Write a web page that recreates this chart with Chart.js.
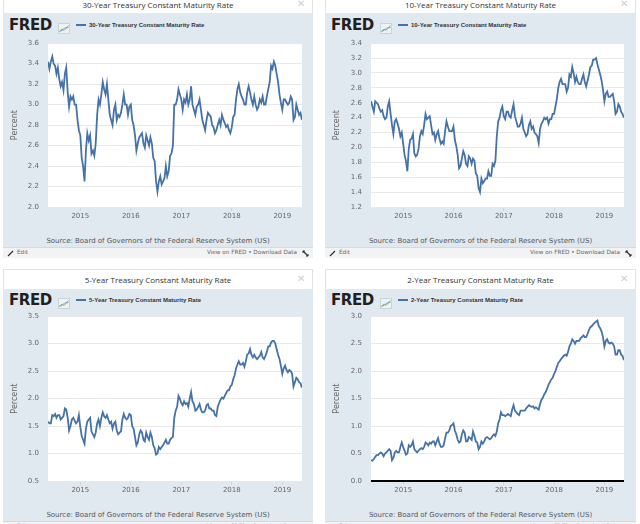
<!DOCTYPE html>
<html>
<head>
<meta charset="utf-8">
<script src="https://cdn.jsdelivr.net/npm/chart.js@4.4.1/dist/chart.umd.min.js"></script>
<style>
  body { margin: 0; width: 640px; height: 524px; overflow: hidden; position: relative; background: #fff; font-family: "DejaVu Sans", sans-serif; }
  .abs { position: absolute; white-space: nowrap; }
  .frame { border: 1px solid #e2e2e2; box-sizing: border-box; background: #fff; }
  .title { text-align: center; font-family: "Open Sans", sans-serif; font-size: 8px; color: #333; line-height: 12px; }
  .close { font-family: "DejaVu Sans", sans-serif; font-size: 10px; color: #cfcfcf; line-height: 12px; }
  .body { background: #e1e9f0; }
  .fred { font-family: "DejaVu Sans", sans-serif; font-weight: bold; font-size: 15px; letter-spacing: -0.4px; color: #231f20; line-height: 16px; }
  .legend { font-family: "Liberation Sans", Arial, sans-serif; font-weight: bold; font-size: 6px; color: #333; line-height: 8px; }
  .source { text-align: center; font-size: 7px; color: #555; line-height: 10px; }
  .bar { background: #f3f3f3; border-top: 1px solid #d8d8d8; box-sizing: border-box; font-size: 5.7px; color: #666; line-height: 9px; }
</style>
</head>
<body>
<script>
// x positions: one value every 1st, 11th and 21st of the month, May 2014 - May 2019
const dates = [];
for (let y = 2014; y <= 2019; y++) {
  for (let m = 1; m <= 12; m++) {
    for (const d of [1, 11, 21]) {
      const t = y + (m - 1) / 12 + (d - 1) / 365;
      if (t >= 2014.36 && t <= 2019.39) dates.push(t);
    }
  }
}
const years = [2015, 2016, 2017, 2018, 2019];

// 30-Year
const rate30 = [
  3.42, 3.35,
  3.42, 3.47, 3.40, 3.38, 3.30, 3.36, 3.25, 3.18, 3.22, 3.14, 3.30, 3.36, 3.12, 2.98, 3.08, 3.05, 3.08, 3.00, 3.00, 2.85, 2.75,
  2.70, 2.48, 2.40, 2.25, 2.55, 2.72, 2.65, 2.70, 2.52, 2.55, 2.50, 2.62, 2.90, 3.05, 3.00, 3.10, 3.22, 3.15, 3.10, 3.20, 3.05, 2.90, 2.85, 2.80, 2.95, 3.00, 2.85, 2.90, 2.88, 2.92, 3.00, 3.10, 3.00, 3.00, 2.90, 2.98,
  3.00, 2.85, 2.80, 2.70, 2.55, 2.62, 2.68, 2.70, 2.72, 2.62, 2.58, 2.70, 2.65, 2.60, 2.68, 2.62, 2.48, 2.45, 2.25, 2.15, 2.25, 2.30, 2.22, 2.25, 2.28, 2.40, 2.30, 2.35, 2.50, 2.52, 2.60, 3.00, 3.00, 3.05, 3.15, 3.10,
  3.05, 2.95, 3.05, 3.02, 3.10, 3.00, 3.05, 3.18, 3.00, 2.95, 2.90, 2.98, 3.00, 3.05, 2.95, 2.85, 2.80, 2.75, 2.85, 2.92, 2.90, 2.88, 2.80, 2.78, 2.72, 2.75, 2.80, 2.85, 2.80, 2.90, 2.85, 2.82, 2.78, 2.80, 2.75, 2.72,
  2.78, 2.88, 2.90, 3.05, 3.15, 3.20, 3.12, 3.08, 3.05, 3.00, 3.00, 3.12, 3.18, 3.12, 3.05, 3.00, 3.08, 3.00, 2.95, 2.98, 3.05, 3.02, 3.08, 3.00, 3.00, 3.08, 3.15, 3.22, 3.38, 3.35, 3.42, 3.38, 3.30, 3.22, 3.10, 3.02,
  2.95, 3.05, 3.05, 3.02, 3.00, 3.02, 3.08, 3.05, 2.85, 2.88, 3.00, 2.95, 2.90, 2.92, 2.85
];

// 10-Year
const rate10 = [
  2.62, 2.55,
  2.48, 2.62, 2.60, 2.58, 2.52, 2.48, 2.50, 2.42, 2.38, 2.40, 2.55, 2.62, 2.45, 2.30, 2.18, 2.35, 2.38, 2.32, 2.25, 2.15, 2.20,
  2.05, 1.90, 1.82, 1.68, 1.98, 2.10, 2.12, 2.18, 1.92, 1.88, 1.90, 1.98, 2.15, 2.22, 2.18, 2.30, 2.45, 2.38, 2.40, 2.42, 2.30, 2.18, 2.20, 2.10, 2.18, 2.22, 2.12, 2.05, 2.08, 2.05, 2.22, 2.35, 2.28, 2.22, 2.22, 2.22,
  2.28, 2.10, 2.02, 1.90, 1.72, 1.75, 1.85, 1.95, 1.90, 1.78, 1.75, 1.88, 1.85, 1.78, 1.85, 1.82, 1.65, 1.62, 1.45, 1.40, 1.58, 1.52, 1.55, 1.58, 1.58, 1.68, 1.62, 1.62, 1.78, 1.75, 1.82, 2.15, 2.35, 2.40, 2.50, 2.55,
  2.42, 2.38, 2.48, 2.48, 2.42, 2.40, 2.50, 2.58, 2.42, 2.35, 2.28, 2.28, 2.32, 2.40, 2.25, 2.20, 2.15, 2.18, 2.30, 2.35, 2.25, 2.28, 2.20, 2.18, 2.15, 2.06, 2.25, 2.32, 2.35, 2.40, 2.38, 2.40, 2.32, 2.38, 2.38, 2.45,
  2.45, 2.55, 2.65, 2.80, 2.88, 2.92, 2.85, 2.85, 2.85, 2.75, 2.80, 2.98, 2.95, 3.08, 3.00, 2.88, 2.95, 2.88, 2.85, 2.85, 2.92, 2.98, 2.88, 2.82, 2.90, 2.98, 3.08, 3.10, 3.18, 3.18, 3.20, 3.12, 3.05, 2.98, 2.90, 2.78,
  2.62, 2.72, 2.75, 2.68, 2.68, 2.70, 2.72, 2.62, 2.45, 2.48, 2.58, 2.55, 2.48, 2.45, 2.40
];

// 5-Year
const rate5 = [
  1.58, 1.55,
  1.55, 1.70, 1.68, 1.72, 1.65, 1.70, 1.70, 1.62, 1.65, 1.68, 1.82, 1.80, 1.65, 1.42, 1.50, 1.62, 1.65, 1.60, 1.55, 1.58, 1.70,
  1.48, 1.32, 1.25, 1.18, 1.45, 1.58, 1.62, 1.65, 1.40, 1.35, 1.30, 1.38, 1.55, 1.62, 1.50, 1.65, 1.75, 1.68, 1.65, 1.70, 1.62, 1.55, 1.58, 1.45, 1.55, 1.58, 1.42, 1.35, 1.38, 1.40, 1.62, 1.72, 1.65, 1.62, 1.65, 1.72,
  1.70, 1.50, 1.45, 1.30, 1.15, 1.20, 1.35, 1.42, 1.38, 1.25, 1.22, 1.38, 1.30, 1.25, 1.38, 1.30, 1.15, 1.10, 0.98, 1.00, 1.12, 1.08, 1.12, 1.15, 1.20, 1.25, 1.18, 1.18, 1.25, 1.28, 1.30, 1.65, 1.78, 1.85, 2.05, 2.00,
  1.92, 1.88, 1.95, 1.90, 1.92, 1.85, 2.00, 2.12, 1.95, 1.90, 1.78, 1.80, 1.85, 1.90, 1.80, 1.75, 1.75, 1.78, 1.88, 1.90, 1.82, 1.82, 1.78, 1.78, 1.70, 1.68, 1.85, 1.92, 1.98, 2.02, 2.00, 2.05, 2.10, 2.15, 2.15, 2.22,
  2.25, 2.35, 2.42, 2.55, 2.62, 2.68, 2.62, 2.62, 2.65, 2.58, 2.68, 2.80, 2.82, 2.90, 2.80, 2.75, 2.80, 2.75, 2.72, 2.75, 2.78, 2.85, 2.75, 2.72, 2.78, 2.85, 2.95, 2.95, 3.02, 3.05, 3.05, 3.00, 2.90, 2.80, 2.72, 2.60,
  2.45, 2.55, 2.60, 2.52, 2.48, 2.52, 2.50, 2.45, 2.22, 2.30, 2.38, 2.35, 2.30, 2.28, 2.20
];

// 2-Year
const rate2 = [
  0.38, 0.37,
  0.40, 0.44, 0.47, 0.47, 0.50, 0.52, 0.50, 0.45, 0.50, 0.52, 0.55, 0.58, 0.55, 0.38, 0.42, 0.52, 0.55, 0.52, 0.52, 0.62, 0.70,
  0.62, 0.55, 0.48, 0.50, 0.65, 0.62, 0.65, 0.72, 0.58, 0.55, 0.52, 0.55, 0.58, 0.60, 0.58, 0.62, 0.70, 0.68, 0.65, 0.70, 0.68, 0.72, 0.72, 0.65, 0.72, 0.78, 0.68, 0.62, 0.62, 0.65, 0.78, 0.88, 0.88, 0.92, 1.00, 1.02,
  1.05, 0.92, 0.85, 0.75, 0.70, 0.72, 0.85, 0.92, 0.88, 0.72, 0.72, 0.80, 0.78, 0.75, 0.90, 0.82, 0.72, 0.70, 0.58, 0.62, 0.72, 0.68, 0.72, 0.78, 0.80, 0.78, 0.76, 0.78, 0.82, 0.85, 0.82, 0.90, 1.05, 1.12, 1.25, 1.20,
  1.20, 1.18, 1.20, 1.22, 1.20, 1.18, 1.30, 1.38, 1.28, 1.25, 1.22, 1.20, 1.28, 1.28, 1.28, 1.28, 1.32, 1.35, 1.38, 1.36, 1.35, 1.36, 1.32, 1.34, 1.32, 1.30, 1.40, 1.48, 1.52, 1.58, 1.62, 1.68, 1.75, 1.80, 1.85, 1.88,
  1.95, 2.00, 2.08, 2.15, 2.18, 2.22, 2.25, 2.28, 2.30, 2.28, 2.35, 2.45, 2.50, 2.58, 2.55, 2.50, 2.55, 2.55, 2.55, 2.60, 2.62, 2.65, 2.62, 2.62, 2.68, 2.75, 2.80, 2.82, 2.85, 2.88, 2.90, 2.92, 2.82, 2.78, 2.72, 2.62,
  2.45, 2.55, 2.58, 2.52, 2.50, 2.52, 2.50, 2.45, 2.30, 2.30, 2.38, 2.38, 2.30, 2.28, 2.20
];

// y tick labels per chart
const ticks30 = [2.0, 2.2, 2.4, 2.6, 2.8, 3.0, 3.2, 3.4, 3.6];
const ticks10 = [1.2, 1.4, 1.6, 1.8, 2.0, 2.2, 2.4, 2.6, 2.8, 3.0, 3.2, 3.4];
const ticks5 = [0.5, 1.0, 1.5, 2.0, 2.5, 3.0, 3.5];
const ticks2 = [0.0, 0.5, 1.0, 1.5, 2.0, 2.5, 3.0];

const panels = [
  { title: '30-Year Treasury Constant Maturity Rate', values: rate30, yTicks: ticks30,
    x0: 3, w: 310, top: -8, titleY: 5, bodyTop: 13, fredY: 25, plotTop: 43, plotBottom: 207, plotLeft: 48, plotRight: 302, barTop: 247 },
  { title: '10-Year Treasury Constant Maturity Rate', values: rate10, yTicks: ticks10,
    x0: 325, w: 311, top: -8, titleY: 5, bodyTop: 13, fredY: 25, plotTop: 43, plotBottom: 207, plotLeft: 371, plotRight: 624, barTop: 247 },
  { title: '5-Year Treasury Constant Maturity Rate', values: rate5, yTicks: ticks5,
    x0: 3, w: 310, top: 269, titleY: 280, bodyTop: 289, fredY: 300, plotTop: 316, plotBottom: 481, plotLeft: 48, plotRight: 302, barTop: 521 },
  { title: '2-Year Treasury Constant Maturity Rate', values: rate2, yTicks: ticks2,
    x0: 325, w: 311, top: 269, titleY: 280, bodyTop: 289, fredY: 300, plotTop: 316, plotBottom: 481, plotLeft: 371, plotRight: 624, barTop: 521 }
];

Chart.defaults.font.family = '"DejaVu Sans", sans-serif';

// white plotting area on the blue panel
const plotBg = {
  id: 'plotBg',
  beforeDraw(chart) {
    const a = chart.chartArea, c = chart.ctx;
    c.save();
    c.fillStyle = '#fff';
    c.fillRect(a.left, a.top, a.right - a.left, a.bottom - a.top);
    c.restore();
  }
};

function el(tag, cls, css, text) {
  const e = document.createElement(tag);
  e.className = cls;
  Object.assign(e.style, css);
  if (text) e.textContent = text;
  document.body.appendChild(e);
  return e;
}
const px = v => v + 'px';

panels.forEach(p => {
  el('div', 'abs frame', { left: px(p.x0), top: px(p.top), width: px(p.w), height: px(p.barTop + 11 - p.top) });
  el('div', 'abs title', { left: px(p.x0), width: px(p.w), top: px(p.titleY - 6) }, p.title);
  el('div', 'abs close', { left: px(p.x0 + p.w - 16), top: px(p.titleY - 7) }, '\u2715');
  el('div', 'abs body', { left: px(p.x0), top: px(p.bodyTop), width: px(p.w), height: px(p.barTop - p.bodyTop) });

  el('div', 'abs fred', { left: px(p.x0 + 6), top: px(p.fredY - 8) }, 'FRED');
  const icon = el('div', 'abs', { left: px(p.x0 + 55), top: px(p.fredY - 6), width: '12px', height: '11px' });
  icon.innerHTML = '<svg width="12" height="11"><rect x="0.5" y="0.5" width="11" height="10" fill="#eef2f4" stroke="#c9d3da"/>' +
    '<polyline points="1.5,9 4,6 6,7.5 10.5,2.5" fill="none" stroke="#8cb369" stroke-width="1"/>' +
    '<polyline points="1.5,8 4,7.5 6.5,5 10.5,4.5" fill="none" stroke="#6f95c0" stroke-width="0.8"/></svg>';
  el('div', 'abs', { left: px(p.x0 + 73), top: px(p.fredY - 1), width: '10px', height: '2px', background: '#4572a7' });
  el('div', 'abs legend', { left: px(p.x0 + 86), top: px(p.fredY - 4) }, p.title);

  const canvas = el('canvas', 'abs', { left: px(p.x0), top: px(p.plotTop - 13) });
  canvas.width = p.w;
  canvas.height = p.plotBottom - p.plotTop + 13 + 15;

  el('div', 'abs source', { left: px(p.x0), width: px(p.w), top: px(p.plotBottom + 29) },
    'Source: Board of Governors of the Federal Reserve System (US)');

  const bar = el('div', 'abs bar', { left: px(p.x0), width: px(p.w), top: px(p.barTop), height: '11px' });
  bar.innerHTML =
    '<svg style="position:absolute;left:4px;top:2px" width="7" height="7"><line x1="1" y1="6" x2="6" y2="1" stroke="#333" stroke-width="1.3"/></svg>' +
    '<span style="position:absolute;left:14px;top:0">Edit</span>' +
    '<span style="position:absolute;right:16px;top:0">View on FRED \u2022 Download Data</span>' +
    '<svg style="position:absolute;right:4px;top:2px" width="7" height="7"><line x1="1" y1="1" x2="6" y2="6" stroke="#333" stroke-width="1.3"/>' +
    '<polyline points="1,3 1,1 3,1" fill="none" stroke="#333" stroke-width="1"/><polyline points="4,6 6,6 6,4" fill="none" stroke="#333" stroke-width="1"/></svg>';

  new Chart(canvas, {
    type: 'line',
    data: {
      datasets: [{
        label: p.title,
        data: p.values.map((v, i) => ({ x: dates[i], y: v })),
        borderColor: '#4572a7',
        borderWidth: 1.8,
        pointRadius: 0,
        tension: 0,
        fill: false
      }]
    },
    options: {
      responsive: false,
      animation: false,
      layout: { padding: { top: 13, right: p.x0 + p.w - p.plotRight, bottom: 0, left: 0 } },
      plugins: { legend: { display: false }, tooltip: { enabled: false } },
      scales: {
        x: {
          type: 'linear',
          min: 2014.36,
          max: 2019.39,
          afterBuildTicks: a => { a.ticks = years.map(v => ({ value: v })); },
          afterFit: a => { a.height = 15; },
          grid: { drawOnChartArea: false, tickLength: 4, color: '#ccd6eb' },
          border: { display: false },
          ticks: { padding: 1, color: '#666', font: { size: 7 }, maxRotation: 0, autoSkip: false, callback: v => String(v) }
        },
        y: {
          min: p.yTicks[0],
          max: p.yTicks[p.yTicks.length - 1],
          afterBuildTicks: a => { a.ticks = p.yTicks.map(v => ({ value: v })); },
          afterFit: a => { a.width = p.plotLeft - p.x0; },
          grid: {
            drawTicks: false,
            color: c => (c.tick && c.tick.value === 0 ? '#000' : '#e8e8e8'),
            lineWidth: c => (c.tick && c.tick.value === 0 ? 2 : 1)
          },
          border: { display: false },
          ticks: { padding: 9, color: '#666', font: { size: 7 }, callback: v => v.toFixed(1) },
          title: { display: true, text: 'Percent', color: '#666', font: { size: 8 }, padding: { top: 7, bottom: 0 } }
        }
      }
    },
    plugins: [plotBg]
  });
});
</script>
</body>
</html>
